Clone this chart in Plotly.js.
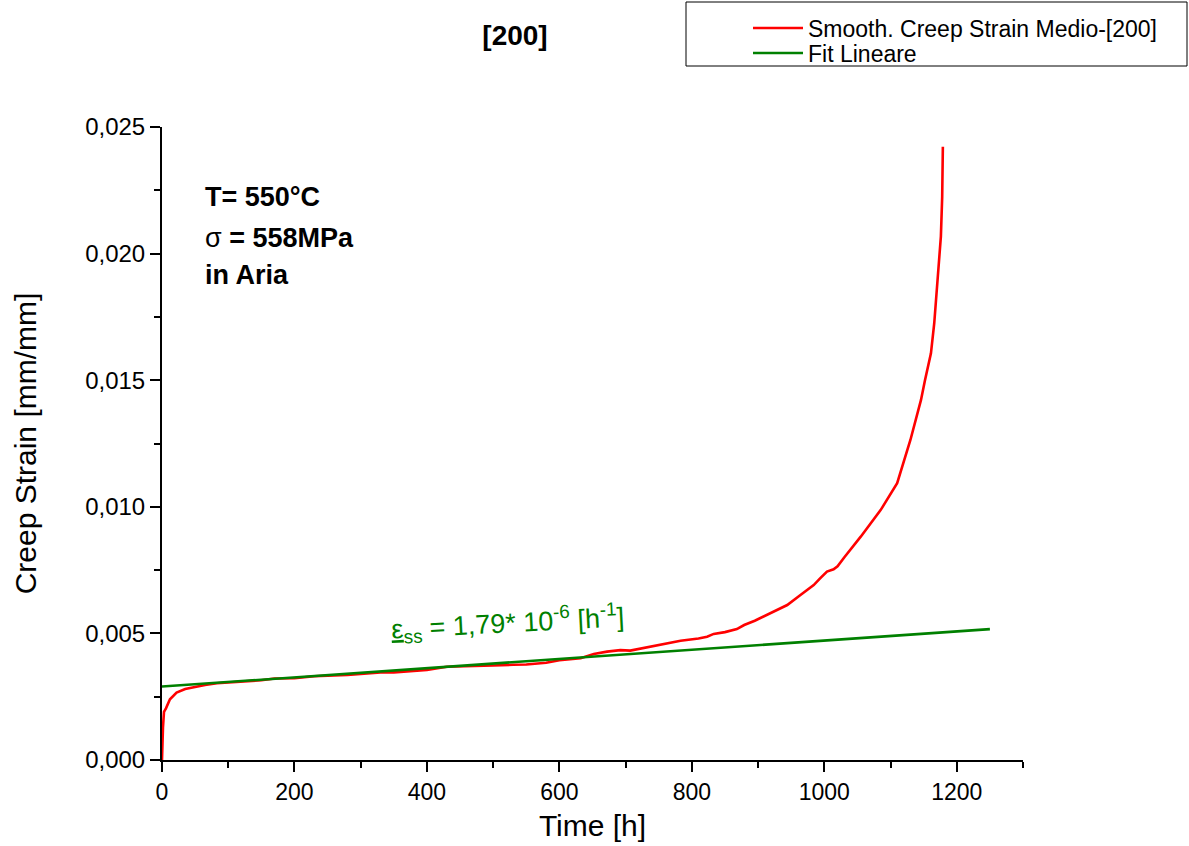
<!DOCTYPE html>
<html>
<head>
<meta charset="utf-8">
<script src="https://cdn.plot.ly/plotly-3.0.1.min.js"></script>
<style>html,body{margin:0;padding:0;background:#fff;}#chart{width:1189px;height:846px;}</style>
</head>
<body>
<div id="chart"></div>
<script>
// Smoothed mean creep strain [200]
const timeH = [0, 0.5, 1.5, 3, 6, 12, 22, 35, 47, 65, 83, 100, 130, 150, 170, 200, 230, 250, 280, 300, 330, 350, 380, 400, 430, 460, 500, 530, 550, 580, 600, 632, 652, 672, 692, 707, 732, 760, 783, 810, 823, 833, 850, 868, 879, 895, 914, 930, 944, 964, 984, 994, 1004, 1014, 1020, 1030, 1055, 1085, 1110, 1130, 1146, 1152, 1161, 1166, 1171, 1176, 1178, 1179];
const creepStrain = [0, 0.0008, 0.0013, 0.0019, 0.00204, 0.0024, 0.00266, 0.0028, 0.00287, 0.00296, 0.00303, 0.00306, 0.00312, 0.00315, 0.00322, 0.00323, 0.00331, 0.00332, 0.00336, 0.0034, 0.00346, 0.00346, 0.00352, 0.00356, 0.00368, 0.00369, 0.00373, 0.00376, 0.00377, 0.00384, 0.00394, 0.00402, 0.00419, 0.00428, 0.00434, 0.00432, 0.00445, 0.00459, 0.00471, 0.0048, 0.00487, 0.00498, 0.00505, 0.00517, 0.00533, 0.0055, 0.00573, 0.00594, 0.00612, 0.00652, 0.00691, 0.00718, 0.00744, 0.00753, 0.00765, 0.008, 0.00882, 0.00987, 0.01093, 0.01264, 0.01422, 0.015, 0.01606, 0.01725, 0.01896, 0.02067, 0.02225, 0.02422];
// Linear fit endpoints
const fitTime = [0, 1250];
const fitStrain = [0.0029, 0.00517];

const seriesNames = ["Smooth. Creep Strain Medio-[200]", "Fit Lineare"];
const xTickVals = [0, 200, 400, 600, 800, 1000, 1200];
const yTickVals = [0, 0.005, 0.01, 0.015, 0.02, 0.025];

const FONT = "Liberation Sans, Arial, sans-serif";

const traces = [
  {x: timeH, y: creepStrain, type: "scatter", mode: "lines", name: seriesNames[0], legend: "legend",
   line: {color: "rgb(255,0,0)", width: 2.6}},
  {x: fitTime, y: fitStrain, type: "scatter", mode: "lines", name: seriesNames[1], legend: "legend2",
   line: {color: "rgb(0,128,0)", width: 2.6}}
];

const legendCommon = {xref: "paper", yref: "container", xanchor: "left", yanchor: "middle",
  bgcolor: "rgba(0,0,0,0)", borderwidth: 0,
  font: {family: FONT, size: 23, color: "#000"}, itemwidth: 50};

const layout = {
  width: 1189, height: 846,
  margin: {l: 162, r: 166, t: 127, b: 86},
  paper_bgcolor: "#fff", plot_bgcolor: "#fff",
  separators: ",.",
  font: {family: FONT, color: "#000", size: 18},
  title: {text: "<b>[200]</b>", font: {family: FONT, size: 28, color: "#000"},
          x: 515/1189, xref: "container", xanchor: "center",
          y: 1 - 35/846, yref: "container", yanchor: "middle"},
  showlegend: true,
  legend: Object.assign({x: (748-162)/861, y: 1 - 28/846}, legendCommon),
  legend2: Object.assign({x: (748-162)/861, y: 1 - 53/846}, legendCommon),
  xaxis: {range: [0, 1300], automargin: false, showgrid: false, zeroline: false, showline: true, linecolor: "#000", linewidth: 2,
          tickmode: "array", tickvals: xTickVals, tickformat: "d",
          ticks: "outside", ticklen: 10, tickwidth: 2, tickcolor: "#000",
          minor: {dtick: 100, tick0: 0, ticks: "outside", ticklen: 6, tickwidth: 2, tickcolor: "#000", showgrid: false},
          tickfont: {family: FONT, size: 23, color: "#000"},
          title: {text: "Time [h]", font: {family: FONT, size: 30, color: "#000"}, standoff: 11}},
  yaxis: {range: [0, 0.025], automargin: false, showgrid: false, zeroline: false, showline: true, linecolor: "#000", linewidth: 2,
          tickmode: "array", tickvals: yTickVals, tickformat: ".3f",
          ticks: "outside", ticklen: 10, tickwidth: 2, tickcolor: "#000",
          minor: {dtick: 0.0025, tick0: 0, ticks: "outside", ticklen: 6, tickwidth: 2, tickcolor: "#000", showgrid: false},
          tickfont: {family: FONT, size: 24, color: "#000"},
          title: {text: "Creep Strain [mm/mm]", font: {family: FONT, size: 30, color: "#000"}, standoff: 40}},
  shapes: [
    {type: "rect", xref: "paper", yref: "paper",
     x0: (686-162)/861, x1: (1187-162)/861, y0: (760-66)/633, y1: (760-2)/633,
     line: {color: "#000", width: 1}, fillcolor: "rgba(0,0,0,0)"}
  ],
  annotations: [
    {text: "<b>T= 550°C</b>", xref: "paper", yref: "paper", x: (203-162)/861, y: (760-197)/633,
     xanchor: "left", yanchor: "middle", showarrow: false, font: {family: FONT, size: 27, color: "#000"}},
    {text: "σ <b>= 558MPa</b>", xref: "paper", yref: "paper", x: (203-162)/861, y: (760-238)/633,
     xanchor: "left", yanchor: "middle", showarrow: false, font: {family: FONT, size: 27, color: "#000"}},
    {text: "<b>in Aria</b>", xref: "paper", yref: "paper", x: (203-162)/861, y: (760-275)/633,
     xanchor: "left", yanchor: "middle", showarrow: false, font: {family: FONT, size: 27, color: "#000"}},
    {text: "<u>ε</u><sub>ss</sub> = 1,79* 10<sup>-6</sup> [h<sup>-1</sup>]", xref: "x", yref: "y",
     x: 522, y: 0.0054, xanchor: "center", yanchor: "middle", textangle: -3, showarrow: false,
     font: {family: FONT, size: 27, color: "rgb(0,128,0)"}}
  ]
};

Plotly.newPlot("chart", traces, layout, {displayModeBar: false, staticPlot: true});
</script>
</body>
</html>
